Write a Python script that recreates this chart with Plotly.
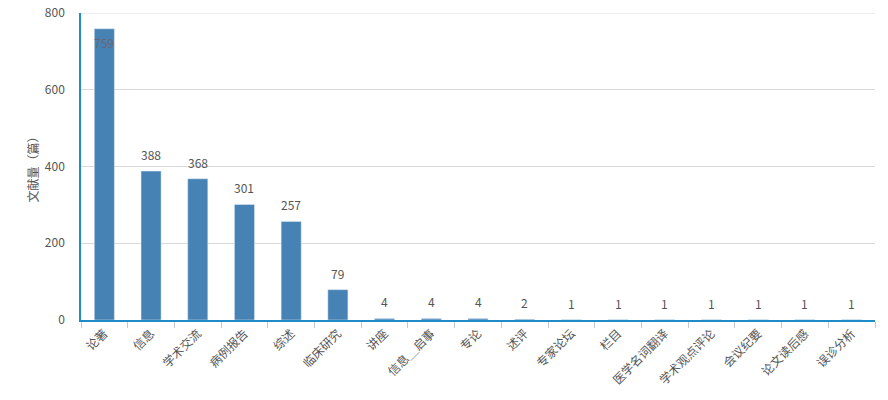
import plotly.graph_objects as go

categories = ["论著", "信息", "学术交流", "病例报告", "综述", "临床研究", "讲座", "信息＿启事",
              "专论", "述评", "专家论坛", "栏目", "医学名词翻译", "学术观点评论", "会议纪要",
              "论文读后感", "误诊分析"]
values = [759, 388, 368, 301, 257, 79, 4, 4, 4, 2, 1, 1, 1, 1, 1, 1, 1]
y_ticks = [0, 200, 400, 600, 800]

font_family = "Noto Sans CJK SC, Noto Sans, sans-serif"

fig = go.Figure(go.Bar(
    x=categories, y=values,
    marker_color="#4682b4",
    width=0.43,
    hoverinfo="x+y",
))

for c, v in zip(categories, values):
    inside = v > 700
    fig.add_annotation(
        x=c, y=v, text=str(v), showarrow=False,
        yanchor="top" if inside else "bottom",
        yshift=-3 if inside else 6,
        font=dict(family=font_family, size=12, color="#667" if inside else "#555"),
    )

# top gridline at the range edge
fig.add_shape(type="line", xref="paper", x0=0, x1=1, yref="y", y0=y_ticks[-1], y1=y_ticks[-1],
              line=dict(color="#d9d9d9", width=1), layer="below")

fig.update_layout(
    width=888, height=400,
    margin=dict(l=81, r=13, t=13, b=80),
    plot_bgcolor="white", paper_bgcolor="white",
    font=dict(family=font_family, size=12, color="#555"),
    showlegend=False,
)
fig.update_xaxes(
    tickangle=-45, automargin=False,
    ticks="outside", tickson="boundaries", ticklen=6, tickcolor="#bfcbd9",
    showline=True, linecolor="#1f8bc7", linewidth=1.5,
    showgrid=False,
    tickfont=dict(size=12, color="#555"),
)
fig.update_yaxes(
    range=[0, 800], tickvals=y_ticks, automargin=False,
    showgrid=True, gridcolor="#d9d9d9",
    showline=True, linecolor="#1f8bc7", linewidth=1.5,
    zeroline=False,
    ticks="", ticklabelstandoff=12, ticklabeloverflow="allow",
    tickfont=dict(size=12, color="#555"),
    title=dict(text="文献量（篇）", font=dict(size=12, color="#555"), standoff=4),
)

fig.write_html("out.html", config={"displayModeBar": False},
               post_script="document.body.style.margin='0px';")
